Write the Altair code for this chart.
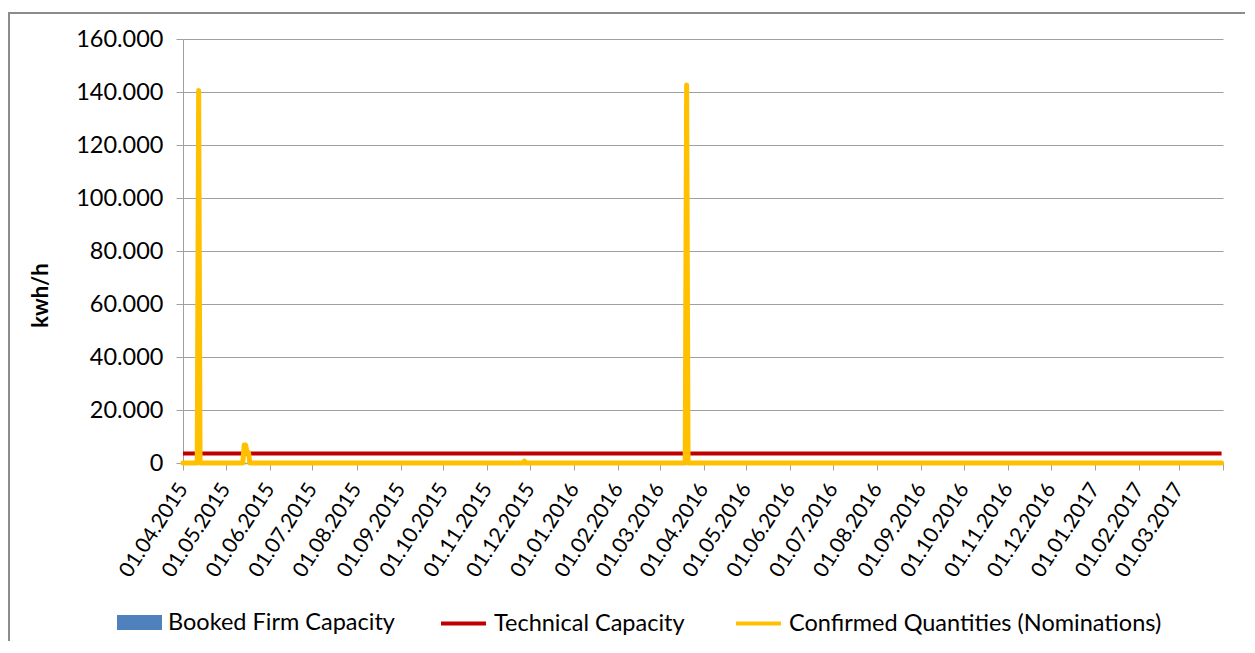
import altair as alt
import pandas as pd

# ---- data ----
booked_name = ["Booked Firm Capacity"]
booked_color = ["#4F81BD"]
line_names = ["Technical Capacity", "Confirmed Quantities (Nominations)"]
line_colors = ["#C00000", "#FFC000"]

booked_dates = ["2015-04-01", "2017-03-31"]
booked_values = [0, 0]

tech_dates = ["2015-04-01", "2017-03-31"]
tech_values = [3600, 3600]

conf_dates = ["2015-04-01", "2015-04-11", "2015-04-12", "2015-04-13",
              "2015-05-13", "2015-05-14", "2015-05-15", "2015-05-16", "2015-05-17", "2015-05-18",
              "2015-11-26", "2015-11-27", "2015-11-28",
              "2016-03-19", "2016-03-20", "2016-03-21",
              "2017-03-31"]
conf_values = [0, 0, 140600, 0,
               0, 6800, 6800, 4000, 4000, 0,
               0, 700, 0,
               0, 142600, 0,
               0]

y_ticks = [0, 20000, 40000, 60000, 80000, 100000, 120000, 140000, 160000]

df_booked = pd.DataFrame({"date": booked_dates, "value": booked_values, "series": booked_name[0]})
df_tech = pd.DataFrame({"date": tech_dates, "value": tech_values, "series": line_names[0]})
df_conf = pd.DataFrame({"date": conf_dates, "value": conf_values, "series": line_names[1]})

FONT = "Lato"
GRID = "#A0A0A0"
FS = 23.5

x_enc = alt.X(
    "date:T",
    scale=alt.Scale(type="utc",
                    domain=[alt.DateTime(year=2015, month=4, date=1, utc=True),
                            alt.DateTime(year=2017, month=4, date=1, utc=True)]),
    axis=alt.Axis(
        title=None,
        tickCount=alt.TimeIntervalStep(interval="month", step=1),
        labelExpr="utcFormat(datum.value, '%Y-%m') == '2017-04' ? '' : utcFormat(datum.value, '%d.%m.%Y')",
        labelAngle=-57,
        labelAlign="right",
        labelBaseline="middle",
        labelPadding=15,
        labelOverlap=False,
        labelBound=False,
        labelFlush=False,
        labelFontSize=21,
        labelFont=FONT,
        labelColor="#000000",
        grid=False,
        ticks=True,
        tickSize=7,
        tickColor=GRID,
        domainColor=GRID,
        domainWidth=1.5,
    ),
)

y_enc = alt.Y(
    "value:Q",
    scale=alt.Scale(domain=[0, 160000], nice=False),
    axis=alt.Axis(
        title="kwh/h",
        titleFont=FONT,
        titleFontSize=22,
        titleFontWeight="bold",
        titleColor="#000000",
        titleAngle=270,
        titleAlign="center",
        titleBaseline="alphabetic",
        titleX=-136,
        titleY=256,
        values=y_ticks,
        labelExpr="replace(format(datum.value, ','), ',', '.')",
        labelFontSize=FS,
        labelFont=FONT,
        labelColor="#000000",
        labelPadding=13,
        tickSize=7,
        tickColor=GRID,
        domainColor=GRID,
        gridColor=GRID,
        gridWidth=1,
    ),
)

common_legend = dict(
    title=None,
    orient="none",
    direction="horizontal",
    labelFont=FONT,
    labelFontSize=FS,
    labelColor="#000000",
    labelOffset=6,
    columnPadding=43,
    symbolSize=2025,
    labelLimit=500,
)

fill_enc = alt.Fill(
    "series:N",
    scale=alt.Scale(domain=booked_name, range=booked_color),
    legend=alt.Legend(legendX=-66, legendY=561,
                      symbolType="M-1,-0.33H1V0.33H-1Z",
                      symbolStrokeWidth=0, symbolOpacity=1,
                      **common_legend),
)

stroke_enc = alt.Stroke(
    "series:N",
    scale=alt.Scale(domain=line_names, range=line_colors),
    legend=alt.Legend(legendX=256, legendY=560,
                      symbolType="stroke",
                      symbolStrokeWidth=4, symbolOpacity=1,
                      **common_legend),
)

booked = alt.Chart(df_booked).mark_area(opacity=1).encode(x=x_enc, y=y_enc, fill=fill_enc)
tech = alt.Chart(df_tech).mark_line(strokeWidth=4).encode(x=x_enc, y=y_enc, stroke=stroke_enc)
conf = alt.Chart(df_conf).mark_line(strokeWidth=5, strokeJoin="round", strokeCap="round").encode(
    x=x_enc, y=y_enc, stroke=stroke_enc)

frame = alt.Chart(pd.DataFrame({"k": [0]})).mark_rect(
    fill=None, stroke="#8C8C8C", strokeWidth=2
).encode(x=alt.value(-174), x2=alt.value(1200), y=alt.value(-26), y2=alt.value(700))

chart = alt.layer(frame, booked, tech, conf).properties(
    width=1040,
    height=424,
    autosize=alt.AutoSizeParams(type="none"),
    padding={"left": 175, "top": 31, "right": 22, "bottom": 178},
    background="white",
).configure_view(stroke=None)

chart.save("out.html", embed_options={"renderer": "svg", "actions": False})
